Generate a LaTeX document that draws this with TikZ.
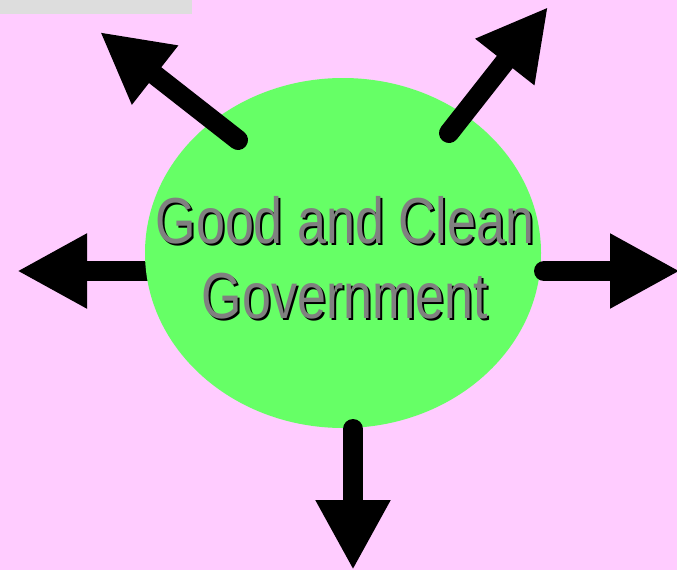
\documentclass[tikz,border=0pt]{standalone}
\usepackage{fontspec}
\newfontfamily\narrowfont[FakeStretch=0.8]{Liberation Sans}
\usetikzlibrary{arrows.meta}
\definecolor{pinkbg}{HTML}{FFCCFF}
\definecolor{govgreen}{HTML}{66FF66}
\definecolor{bargrey}{HTML}{DDDDDD}
\definecolor{txtgrey}{HTML}{808080}
\tikzset{
    bigarrow/.style = {line width=20pt,line cap=round,black,-{Triangle[width=70pt,length=70pt]}},
    govnode/.style = {ellipse,fill=govgreen,minimum width=396pt,minimum height=350pt,inner sep=0pt},
    govtxt/.style = {align=center,inner sep=0pt,font=\narrowfont\fontsize{65}{75}\selectfont},
}
\usetikzlibrary{shapes.geometric}
\begin{document}
\begin{tikzpicture}[x=1pt,y=-1pt]
%
\fill[pinkbg] (0,0) rectangle (677,570);
\useasboundingbox (0,0) rectangle (677,570);
\fill[bargrey] (0,0) rectangle (192,14);
%
\coordinate (wtail) at (200,271);
\coordinate (wtip) at (17,271);
\draw[bigarrow] (wtail) -- (wtip);
%
\node[govnode] at (343,253) (gov) {};
\node[govtxt,text=black] at (347,260) (govshadow) {Good and Clean\\Government};
\node[govtxt,text=txtgrey] at (345,258) (govlabel) {Good and Clean\\Government};
%
\coordinate (etail) at (544,271);
\coordinate (etip) at (680,271);
\coordinate (stail) at (353,429);
\coordinate (stip) at (353,570);
\coordinate (nwtail) at (238,140);
\coordinate (nwtip) at (100,32);
\coordinate (netail) at (449,133);
\coordinate (netip) at (548,7);
\draw[bigarrow] (etail) -- (etip);
\draw[bigarrow] (stail) -- (stip);
\draw[bigarrow] (nwtail) -- (nwtip);
\draw[bigarrow] (netail) -- (netip);
\end{tikzpicture}
\end{document}
